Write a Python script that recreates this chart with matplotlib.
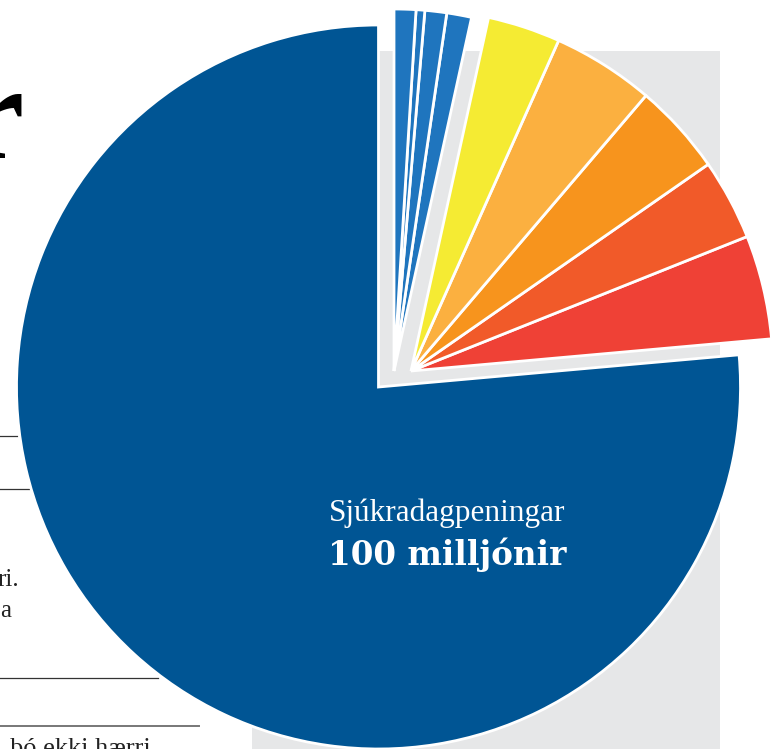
import matplotlib
matplotlib.use('Agg')
import matplotlib.pyplot as plt
from matplotlib.patches import Rectangle

W, H = 779, 749

# --- data (millions) ---
values = [100, 6.07, 4.73, 5.35, 5.96, 4.25, 1.45, 1.27, 0.51, 1.27]
colors = ['#005594', '#EF4136', '#F15A29', '#F7941D', '#FBB040', '#F5EB33',
          '#1F75BE', '#1F75BE', '#1F75BE', '#1F75BE']
groups = ['main', 'warm', 'warm', 'warm', 'warm', 'warm',
          'blue', 'blue', 'blue', 'blue']
main_label = 'Sjúkradagpeningar'
main_value = '100 milljónir'

# --- layout (pixel units, y up) ---
R = 362
centers = {'main': (378.5, H - 387), 'warm': (411, H - 371), 'blue': (394, H - 371)}

fig = plt.figure(figsize=(W / 100, H / 100), dpi=100)
ax = fig.add_axes([0, 0, 1, 1])

# gray panel behind
ax.add_patch(Rectangle((252, 0), 720 - 252, H - 51, facecolor='#E6E7E8',
                       edgecolor='none', zorder=0))

wedges, _ = ax.pie(values, colors=colors, startangle=90, counterclock=True,
                   radius=R, center=centers['main'],
                   wedgeprops=dict(edgecolor='white', linewidth=2.0))
for w, g in zip(wedges, groups):
    w.set_center(centers[g])
    w.set_zorder(2)

ax.text(447.5, H - 521, main_label, ha='center', va='baseline', color='white',
        fontsize=22.5, family='Liberation Serif', zorder=5)
ax.text(447.5, H - 565, main_value, ha='center', va='baseline', color='white',
        fontsize=23.5, fontweight='bold', family='DejaVu Serif', zorder=5)

# page fragments on the left
ax.text(24, H - 158, 'r', ha='right', va='baseline', color='black',
        fontsize=98, fontweight='bold', family='Liberation Serif', zorder=1)
ax.plot([0, 17], [H - 436, H - 436], color='#333333', lw=0.9, zorder=1)
ax.plot([0, 29], [H - 489, H - 489], color='#333333', lw=0.9, zorder=1)
ax.plot([0, 158], [H - 678, H - 678], color='#333333', lw=0.9, zorder=1)
ax.plot([0, 199], [H - 726, H - 726], color='#777777', lw=1.4, zorder=1)
ax.text(19, H - 586, 'ri.', ha='right', va='baseline', color='#222222',
        fontsize=18, family='Liberation Serif', zorder=1)
ax.text(0, H - 617, 'a', ha='left', va='baseline', color='#222222',
        fontsize=18, family='Liberation Serif', zorder=1)
ax.text(10, H - 755, 'þó ekki hærri', ha='left', va='baseline', color='#222222',
        fontsize=19, family='Liberation Serif', zorder=1)

ax.set_xlim(0, W)
ax.set_ylim(0, H)
ax.set_aspect('equal', adjustable='box')
ax.axis('off')

fig.savefig('out.png', dpi=100, facecolor='white')
